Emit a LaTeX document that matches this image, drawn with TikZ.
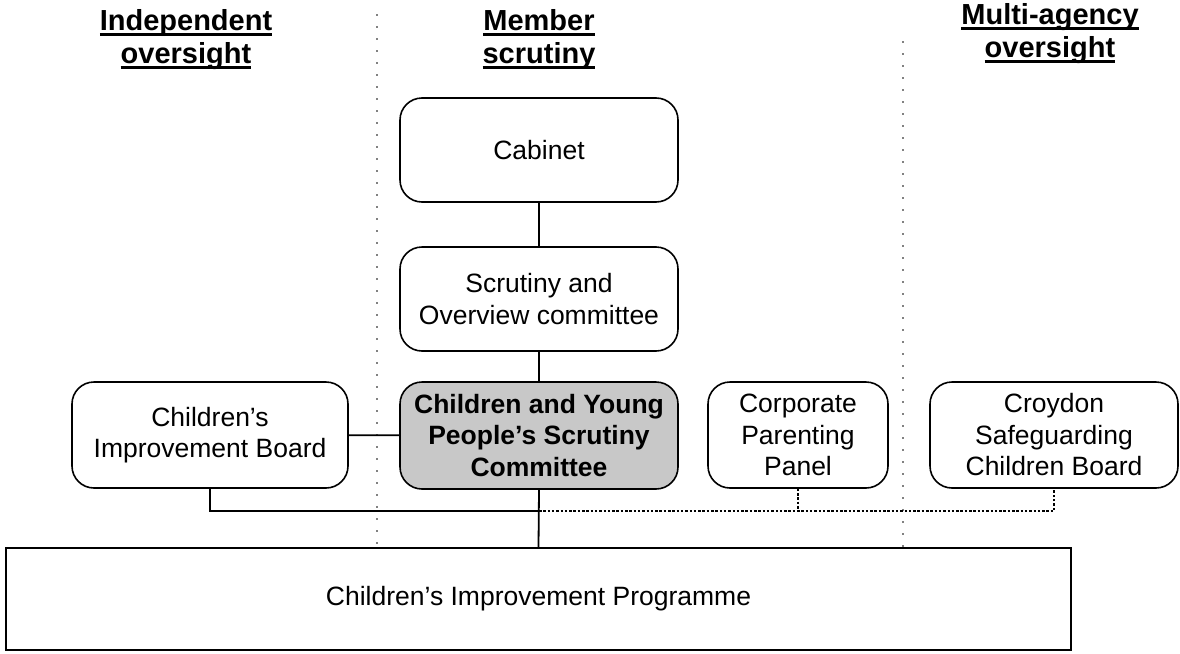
\documentclass[tikz,border=0pt]{standalone}
\usepackage{fontspec}
\setmainfont{Liberation Sans}
\definecolor{cypgray}{RGB}{200,200,200}
\newcommand\bodyfont{\fontsize{26.5}{31.5}\selectfont}
\newcommand\hdfont{\bfseries\fontsize{29}{33}\selectfont}
\newcommand\hul[1]{\setbox0=\hbox{#1}\rlap{\rule[-6pt]{\wd0}{3pt}}\box0}
\tikzset{
  box/.style={draw, line width=1.6pt, rounded corners=22pt, align=center, inner sep=0pt, font=\bodyfont},
  progbox/.style={draw, line width=2pt, align=center, inner sep=0pt, font=\bodyfont},
  hdr/.style={anchor=base, align=center, inner sep=0pt, font=\hdfont},
  conn/.style={line width=1.8pt},
  sep/.style={line width=1.8pt, line cap=round, dash pattern=on 0pt off 12pt},
  dotconn/.style={line width=2pt, dash pattern=on 2.5pt off 1.8pt},
}
\begin{document}
\begin{tikzpicture}[x=1pt,y=-1pt]
\useasboundingbox (0,0) rectangle (1180,653);
% headers (base anchor = last line)
\node[hdr] (h1) at (186,63) {\hul{Independent}\\\hul{oversight}};
\node[hdr] (h2) at (539,63) {\hul{Member}\\\hul{scrutiny}};
\node[hdr] (h3) at (1050,57) {\hul{Multi-agency}\\\hul{oversight}};
% separators
\draw[sep] (377,15) -- (377,546);
\draw[sep] (903,42) -- (903,546);
% boxes
\node[box, minimum width=278pt, minimum height=104pt] (cab) at (539,150) {Cabinet};
\node[box, minimum width=278pt, minimum height=104pt] (so) at (539,299) {Scrutiny and\\Overview committee};
\node[box, fill=cypgray, minimum width=278pt, minimum height=107pt, font=\bodyfont\bfseries] (cyp) at (539,435.5) {Children and Young\\People’s Scrutiny\\Committee};
\node[box, minimum width=276pt, minimum height=106pt] (board) at (210,435) {Children’s\\Improvement Board};
\node[box, minimum width=180pt, minimum height=106pt] (cpp) at (798,435) {Corporate\\Parenting\\Panel};
\node[box, minimum width=248pt, minimum height=106pt] (cscb) at (1054,435) {Croydon\\Safeguarding\\Children Board};
\node[progbox, minimum width=1065pt, minimum height=102pt] (prog) at (538.5,599) {Children’s Improvement Programme};
% connectors
\coordinate (jn) at (539,511);
\coordinate (je) at (1054,511);
\draw[conn] (cab) -- (so);
\draw[conn] (so) -- (cyp);
\draw[conn] (board) -- (cyp);
\draw[conn] (cyp.south) -- (prog.north);
\draw[conn] (board.south) |- (jn);
\draw[dotconn] (jn) -- (je) -- (cscb.south);
\draw[dotconn] (cpp.south) -- (cpp.south |- jn);
\end{tikzpicture}
\end{document}
